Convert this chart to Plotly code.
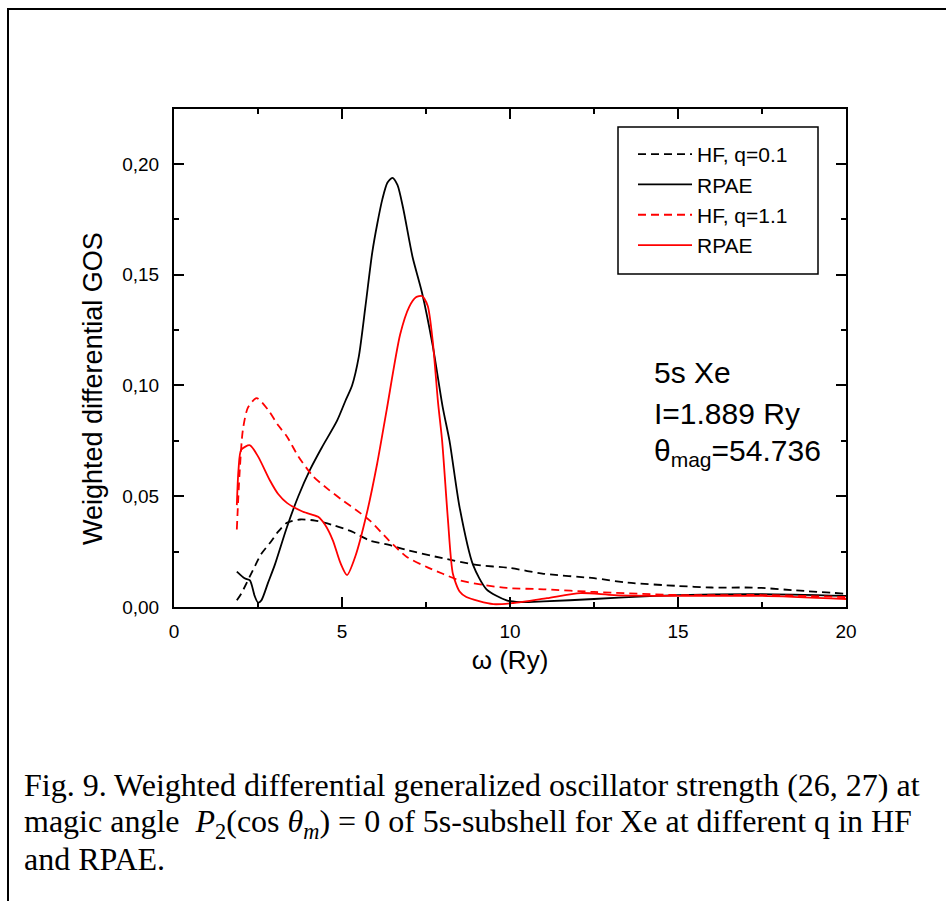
import plotly.graph_objects as go

# ---------------- data ----------------
hf_q01_x = [1.87, 2.0, 2.36, 2.6, 2.86, 3.1, 3.36, 3.75, 4.2, 4.73, 5.3, 5.83, 6.4, 6.93,
            8.0, 9.0, 10.0, 11.0, 12.5, 13.5, 15.0, 16.0, 17.0, 17.5, 18.5, 20.0]
hf_q01_y = [0.003, 0.006, 0.017, 0.024, 0.029, 0.034, 0.038, 0.0395, 0.039, 0.037, 0.034, 0.030,
            0.028, 0.0257, 0.022, 0.019, 0.0176, 0.015, 0.013, 0.011, 0.0095, 0.0088, 0.0088,
            0.0086, 0.0075, 0.006]

rpae_q01_x = [1.87, 2.1, 2.26, 2.4, 2.5, 2.6, 2.8, 3.0, 3.36, 3.7, 4.05, 4.4, 4.85, 5.1, 5.3,
              5.5, 5.7, 5.9, 6.05, 6.2, 6.35, 6.5, 6.65, 6.82, 7.1, 7.38, 7.7, 8.0, 8.2, 8.5,
              8.9, 9.3, 9.9, 10.3, 11.0, 12.5, 14.0, 15.0, 17.5, 20.0]
rpae_q01_y = [0.016, 0.013, 0.012, 0.005, 0.002, 0.003, 0.011, 0.019, 0.036, 0.050, 0.062,
              0.072, 0.084, 0.093, 0.100, 0.113, 0.136, 0.160, 0.173, 0.184, 0.1915, 0.1937,
              0.1905, 0.180, 0.158, 0.142, 0.118, 0.090, 0.075, 0.045, 0.019, 0.008, 0.003,
              0.0022, 0.0025, 0.0036, 0.0048, 0.0054, 0.0058, 0.005]

hf_q11_x = [1.87, 1.95, 2.05, 2.2, 2.46, 2.8, 3.1, 3.36, 3.7, 4.14, 4.6, 5.03, 5.4, 5.83, 6.4,
            6.93, 7.53, 8.0, 8.5, 9.2, 9.9, 11.0, 12.5, 15.0, 17.5, 20.0]
hf_q11_y = [0.035, 0.060, 0.080, 0.090, 0.0943, 0.089, 0.082, 0.077, 0.068, 0.059, 0.053,
            0.048, 0.044, 0.039, 0.030, 0.0226, 0.018, 0.015, 0.012, 0.010, 0.0086, 0.008,
            0.0068, 0.0054, 0.0054, 0.0045]

rpae_q11_x = [1.87, 1.92, 2.0, 2.26, 2.5, 2.86, 3.1, 3.36, 3.84, 4.29, 4.5, 4.73, 4.95, 5.15,
              5.4, 5.74, 6.05, 6.33, 6.73, 7.0, 7.2, 7.38, 7.55, 7.7, 7.86, 7.98, 8.15, 8.3,
              8.5, 8.7, 9.5, 10.1, 11.1, 12.1, 13.1, 15.0, 17.5, 20.0]
rpae_q11_y = [0.046, 0.062, 0.071, 0.073, 0.068, 0.057, 0.051, 0.047, 0.043, 0.0407, 0.037,
              0.030, 0.020, 0.0144, 0.023, 0.0424, 0.065, 0.089, 0.123, 0.1355, 0.1398, 0.1404,
              0.136, 0.120, 0.092, 0.075, 0.040, 0.015, 0.007, 0.0045, 0.0013, 0.0018, 0.004,
              0.0063, 0.0054, 0.005, 0.005, 0.0036]

series_names = ["HF, q=0.1", "RPAE", "HF, q=1.1", "RPAE"]

x_tickvals = [0, 5, 10, 15, 20]
x_ticktext = ["0", "5", "10", "15", "20"]
y_tickvals = [0.0, 0.05, 0.10, 0.15, 0.20]
y_ticktext = ["0,00", "0,05", "0,10", "0,15", "0,20"]

# ---------------- figure ----------------
SANS = "Liberation Sans, Arial, sans-serif"
SERIF = "Liberation Serif, Times New Roman, serif"

W, H = 946, 901
L, R, T, B = 174, 100, 109, 294
pw, ph = W - L - R, H - T - B


def px(xp):
    return (xp - L) / pw


def py(yp):
    return (H - B - yp) / ph


fig = go.Figure()
styles = [("black", "8px,5px"), ("black", "solid"), ("red", "8px,5px"), ("red", "solid")]
data = [(hf_q01_x, hf_q01_y), (rpae_q01_x, rpae_q01_y), (hf_q11_x, hf_q11_y), (rpae_q11_x, rpae_q11_y)]
for (xs, ys), name, (col, dash) in zip(data, series_names, styles):
    fig.add_trace(go.Scatter(x=xs, y=ys, mode="lines", name=name,
                             line=dict(color=col, width=1.8, dash=dash, shape="spline", smoothing=0.7)))

fig.update_xaxes(range=[0, 20], tickvals=x_tickvals, ticktext=x_ticktext,
                 ticks="inside", ticklen=10, tickwidth=1.5, tickcolor="black",
                 minor=dict(ticks="inside", ticklen=5, dtick=2.5, tickwidth=1.5, tickcolor="black"),
                 showline=True, linewidth=2, linecolor="black", mirror="ticks",
                 showgrid=False, zeroline=False, ticklabelstandoff=6,
                 tickfont=dict(size=19, family=SANS, color="black"),
                 title=dict(text="ω (Ry)", font=dict(size=26, family=SANS, color="black"), standoff=10))
fig.update_yaxes(range=[0, 0.2248], tickvals=y_tickvals, ticktext=y_ticktext,
                 ticks="inside", ticklen=10, tickwidth=1.5, tickcolor="black",
                 minor=dict(ticks="inside", ticklen=5, dtick=0.025, tickwidth=1.5, tickcolor="black"),
                 showline=True, linewidth=2, linecolor="black", mirror="ticks",
                 showgrid=False, zeroline=False, ticklabelstandoff=9,
                 tickfont=dict(size=19, family=SANS, color="black"))

annotations = [dict(text="Weighted differential GOS", x=px(93), y=py(389), xref="paper", yref="paper",
                    xanchor="center", yanchor="middle", textangle=-90, showarrow=False,
                    font=dict(size=27, family=SANS, color="black"))]
for txt, yp in [("5s Xe", 372), ("I=1.889 Ry", 413), ("θ<sub>mag</sub>=54.736", 452)]:
    annotations.append(dict(text=txt, x=px(652), y=py(yp), xref="paper", yref="paper",
                            xanchor="left", yanchor="middle", showarrow=False,
                            font=dict(size=30, family=SANS, color="black")))

caption = [
    "Fig. 9. Weighted differential generalized oscillator strength (26, 27) at",
    "magic angle  <i>P</i><sub>2</sub>(cos <i>θ</i><sub><i>m</i></sub>) = 0 of 5s-subshell for Xe at different q in HF",
    "and RPAE.",
]
for txt, yp in zip(caption, [785, 823, 859]):
    annotations.append(dict(text=txt, x=px(22), y=py(yp), xref="paper", yref="paper",
                            xanchor="left", yanchor="middle", showarrow=False,
                            font=dict(size=32, family=SERIF, color="black")))

fig.update_layout(
    width=W, height=H,
    margin=dict(l=L, r=R, t=T, b=B, autoexpand=False),
    paper_bgcolor="white", plot_bgcolor="white",
    showlegend=True,
    legend=dict(x=px(633), y=py(134), xanchor="left", yanchor="top",
                borderwidth=0, bgcolor="rgba(0,0,0,0)",
                font=dict(size=21, family=SANS, color="black"),
                itemwidth=54, tracegroupgap=0),
    annotations=annotations,
    shapes=[
        dict(type="rect", xref="paper", yref="paper",
             x0=px(8), x1=px(960), y0=py(915), y1=py(9),
             line=dict(color="black", width=2), layer="above"),
        dict(type="rect", xref="paper", yref="paper",
             x0=px(618), x1=px(818), y0=py(274), y1=py(127),
             line=dict(color="black", width=1.5), layer="above"),
    ],
)

fig.write_html("out.html")
